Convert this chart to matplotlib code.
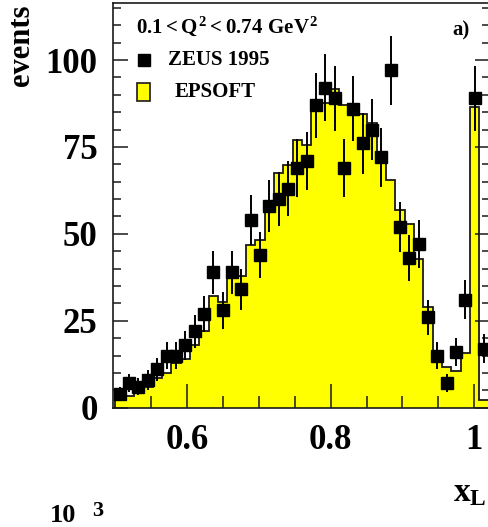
import numpy as np
import matplotlib
matplotlib.use("Agg")
import matplotlib.pyplot as plt
from matplotlib.patches import Rectangle
from matplotlib.lines import Line2D

# ---- data -----------------------------------------------------------------
# x_L binning: 40 bins between 0.50 and 1.02
x_lo, x_hi, n_bins = 0.50, 1.02, 40

# ZEUS 1995 events per bin
zeus_counts = [4, 7, 6, 8, 11, 15, 15, 18, 22, 27,
               39, 28, 39, 34, 54, 44, 58, 60, 63, 69,
               71, 87, 92, 89, 69, 86, 76, 80, 72, 97,
               52, 43, 47, 26, 15, 7, 16, 31, 89, 17]
# statistical errors
zeus_errors = [2.0, 2.6, 2.4, 2.8, 3.3, 3.9, 3.9, 4.2, 4.7, 5.2,
               6.2, 5.3, 6.2, 5.8, 7.3, 6.6, 7.6, 7.7, 7.9, 8.3,
               8.4, 9.3, 9.6, 9.4, 8.3, 9.3, 8.7, 8.9, 8.5, 9.8,
               7.2, 6.6, 6.9, 5.1, 3.9, 2.6, 4.0, 5.6, 9.4, 4.1]
# EPSOFT Monte Carlo prediction
epsoft = [2.7, 3.5, 4.5, 6.0, 8.5, 10.0, 13.0, 14.0, 18.0, 22.0,
          32.0, 30.5, 37.8, 37.8, 46.9, 48.3, 57.9, 67.5, 69.7, 77.1,
          75.7, 87.7, 87.7, 91.6, 87.0, 87.0, 84.4, 82.0, 72.3, 65.6,
          57.0, 52.7, 42.8, 29.1, 14.7, 11.8, 10.5, 15.7, 86.5, 2.2]

y_ticks = [0, 25, 50, 75, 100]
x_ticks = [0.6, 0.8, 1.0]
x_tick_labels = ["0.6", "0.8", "1"]

# ---- figure ---------------------------------------------------------------
W, H = 488, 527
fig = plt.figure(figsize=(W / 100, H / 100), dpi=100)
serif = "Liberation Serif"
plt.rcParams["mathtext.fontset"] = "custom"
plt.rcParams["mathtext.rm"] = "Liberation Serif:bold"
plt.rcParams["mathtext.bf"] = "Liberation Serif:bold"
plt.rcParams["mathtext.it"] = "Liberation Serif:bold"


def px(x, y):
    """pixel position (from top-left) -> figure fraction"""
    return x / W, 1 - y / H


ax_l, ax_r, ax_t, ax_b = 113, 490, 3, 407.7
ax = fig.add_axes([ax_l / W, 1 - ax_b / H, (ax_r - ax_l) / W, (ax_b - ax_t) / H])

edges = np.linspace(x_lo, x_hi, n_bins + 1)
centers = 0.5 * (edges[:-1] + edges[1:])

ink = "#1a1a1a"
ax.stairs(epsoft, edges, baseline=0, fill=True, color="#ffff00", zorder=1)
ax.stairs(epsoft, edges, baseline=0, color=ink, lw=1.3, zorder=2)
ax.errorbar(centers, zeus_counts, yerr=zeus_errors, fmt="s", color="black",
            ms=8.8, elinewidth=1.4, capsize=0, zorder=3)

ax.set_xlim(0.497, 1.0219)
ax.set_ylim(0, 116.4)

ax.set_xticks(x_ticks)
ax.set_xticklabels(x_tick_labels)
ax.set_xticks(np.arange(0.55, 1.0001, 0.05), minor=True)
ax.set_yticks(y_ticks)
ax.set_yticks(np.arange(0, 116, 5), minor=True)

ax.tick_params(axis="x", which="major", direction="in", length=17.5, width=1.1,
               color=ink, pad=12, top=False)
ax.tick_params(axis="x", which="minor", direction="in", length=8.8, width=1.1,
               color=ink, top=False)
ax.tick_params(axis="y", which="major", direction="in", length=11, width=1.1,
               color=ink, pad=11, right=True)
ax.tick_params(axis="y", which="minor", direction="in", length=5.8, width=1.1,
               color=ink, right=True)
for lab in ax.get_xticklabels() + ax.get_yticklabels():
    lab.set_fontfamily(serif)
    lab.set_fontweight("bold")
    lab.set_fontsize(25)
for sp in ax.spines.values():
    sp.set_color(ink)
    sp.set_linewidth(1.2)

# ---- annotations ----------------------------------------------------------
fig.text(*px(136, 33), r"$0.1 < Q^2 < 0.74\ GeV^2$", fontsize=15,
         ha="left", va="baseline")
fig.text(*px(452, 30), "a)", family=serif, weight="bold", fontsize=15,
         ha="left", va="center")

# legend
fig.add_artist(Line2D([px(144, 0)[0]], [px(0, 60)[1]], marker="s", ms=9,
                      color="black", transform=fig.transFigure))
lx0, ly0 = px(137, 101)
lx1, ly1 = px(150, 83)
fig.add_artist(Rectangle((lx0, ly0), lx1 - lx0, ly1 - ly0, facecolor="#ffff00",
                         edgecolor=ink, lw=1.2, transform=fig.transFigure))
fig.text(*px(168, 60), "ZEUS 1995", family=serif, weight="bold", fontsize=15,
         ha="left", va="center")
fig.text(*px(175, 92), "EPSOFT", family=serif, weight="bold", fontsize=15,
         ha="left", va="center")

# axis titles
fig.text(*px(22, 45), "events", family=serif, weight="bold", fontsize=22,
         rotation=90, ha="center", va="center")
fig.text(*px(470, 492), r"$x_L$", fontsize=24, ha="center", va="center")

# scale factor of the panel below
fig.text(*px(50, 527), "10", family=serif, weight="bold", fontsize=19,
         ha="left", va="bottom")
fig.text(*px(92, 501), "3", family=serif, weight="bold", fontsize=16,
         ha="left", va="top")

fig.savefig("out.png", dpi=100)
